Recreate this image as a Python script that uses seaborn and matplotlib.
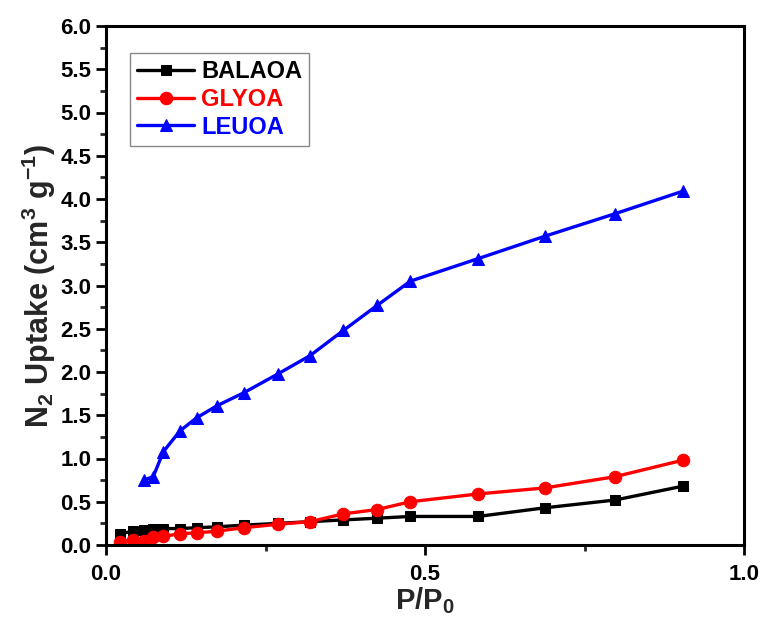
import matplotlib
matplotlib.use("Agg")
import matplotlib.pyplot as plt
from matplotlib.ticker import MultipleLocator
import seaborn as sns
import pandas as pd

sns.set_theme(style="ticks")
plt.rcParams['font.family'] = ['Liberation Sans', 'DejaVu Sans']
plt.rcParams['font.weight'] = 'bold'
plt.rcParams['mathtext.fontset'] = 'custom'
plt.rcParams['mathtext.rm'] = 'Liberation Sans:bold'
plt.rcParams['mathtext.default'] = 'rm'

# Relative pressure (P/P0)
p_all = [0.022, 0.043, 0.059, 0.074, 0.090, 0.116, 0.142, 0.174, 0.216,
         0.270, 0.320, 0.372, 0.425, 0.477, 0.583, 0.688, 0.798, 0.904]
p_leu = [0.059, 0.074, 0.090, 0.116, 0.142, 0.174, 0.216,
         0.270, 0.320, 0.372, 0.425, 0.477, 0.583, 0.688, 0.798, 0.904]

balaoa = [0.13, 0.16, 0.17, 0.18, 0.19, 0.19, 0.20, 0.21, 0.23,
          0.25, 0.27, 0.29, 0.31, 0.33, 0.33, 0.43, 0.52, 0.68]
glyoa = [0.04, 0.06, 0.05, 0.09, 0.10, 0.13, 0.14, 0.16, 0.20,
         0.24, 0.27, 0.36, 0.41, 0.50, 0.59, 0.66, 0.79, 0.98]
leuoa = [0.75, 0.79, 1.08, 1.32, 1.47, 1.61, 1.76, 1.98,
         2.19, 2.48, 2.77, 3.05, 3.31, 3.57, 3.83, 4.09]

series_names = ["BALAOA", "GLYOA", "LEUOA"]
colors = ["#000000", "#ff0000", "#0000ff"]
markers = ["s", "o", "^"]
msizes = [7.5, 9, 9]

frames = [
    pd.DataFrame({"p": p_all, "v": balaoa, "s": "BALAOA"}),
    pd.DataFrame({"p": p_all, "v": glyoa, "s": "GLYOA"}),
    pd.DataFrame({"p": p_leu, "v": leuoa, "s": "LEUOA"}),
]

fig = plt.figure(figsize=(7.61, 6.17), dpi=100)
ax = fig.add_axes([106/761, 1-545/617, (744-106)/761, (545-26)/617])

for df, name, c, m, ms in zip(frames, series_names, colors, markers, msizes):
    sns.lineplot(data=df, x="p", y="v", ax=ax, color=c, marker=m, markersize=ms,
                 markeredgecolor=c, linewidth=2.4, label=name, sort=False)

ax.set_xlim(0, 1.0)
ax.set_ylim(0, 6.0)
ax.xaxis.set_major_locator(MultipleLocator(0.5))
ax.xaxis.set_minor_locator(MultipleLocator(0.25))
ax.yaxis.set_major_locator(MultipleLocator(0.5))
ax.yaxis.set_minor_locator(MultipleLocator(0.25))
ax.xaxis.set_major_formatter(matplotlib.ticker.FormatStrFormatter('%.1f'))
ax.yaxis.set_major_formatter(matplotlib.ticker.FormatStrFormatter('%.1f'))
ax.tick_params(which='major', direction='out', length=7, width=2, labelsize=16, colors='black')
ax.tick_params(axis='x', which='major', pad=7)
ax.tick_params(which='minor', direction='out', length=4, width=2)
for sp in ax.spines.values():
    sp.set_visible(True)
    sp.set_linewidth(2.2)
    sp.set_color('black')
for lab in ax.get_xticklabels() + ax.get_yticklabels():
    lab.set_fontweight('bold')

ax.set_xlabel("P/P$_0$", fontsize=21, fontweight='bold', labelpad=0)
ax.set_ylabel("N$_2$ Uptake (cm$^3$ g$^{-1}$)", fontsize=22, fontweight='bold', labelpad=2)

leg = ax.legend(loc='upper left', bbox_to_anchor=(0.038, 0.948), borderaxespad=0,
                fontsize=17, handlelength=2.4, frameon=True, fancybox=False,
                edgecolor='#888888', framealpha=1, borderpad=0.3, labelspacing=0.2,
                handletextpad=0.3)
leg.get_frame().set_linewidth(1.0)
for txt, c in zip(leg.get_texts(), colors):
    txt.set_color(c)
    txt.set_fontweight('bold')

fig.savefig("out.png", dpi=100)
